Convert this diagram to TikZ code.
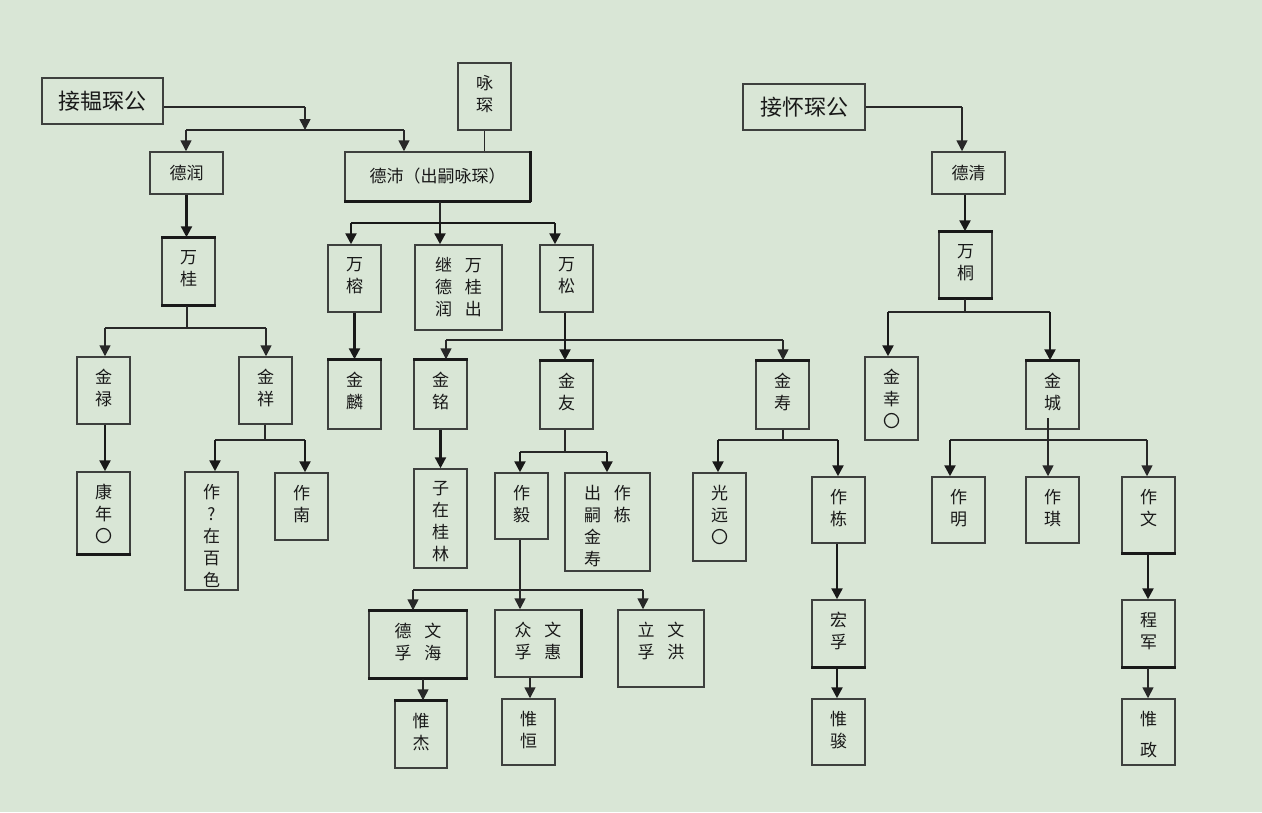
\documentclass[tikz,border=0pt]{standalone}
\usepackage{fontspec}
\newfontfamily\cjk{Noto Sans CJK SC}
\usetikzlibrary{arrows.meta}
\definecolor{bg}{RGB}{217,230,214}
\definecolor{bc}{RGB}{62,64,62}
\definecolor{lc}{RGB}{40,40,40}
\tikzset{
  box/.style={draw=bc, line width=1.5pt, inner sep=0pt},
  thk/.style={draw=black!90, line width=2.8pt},
  ln/.style={draw=lc, line width=1.6pt},
  lnb/.style={draw=black!90, line width=2.4pt},
  arr/.style={ln, -{Triangle[width=11pt,length=11pt]}},
  arrb/.style={lnb, -{Triangle[width=11pt,length=11pt]}},
  lbl/.style={font=\cjk\fontsize{17}{22}\selectfont, align=center, inner sep=0pt, text=black!90},
  big/.style={font=\cjk\fontsize{22}{26}\selectfont, inner sep=0pt, text=black!90},
}
\newcommand{\tbox}[6]{%
  \node[box, minimum width={(#4-#2)*1pt}, minimum height={(#5-#3)*1pt}] (#1) at ({(#2+#4)/2},{(#3+#5)/2}) {};
  \node[lbl, anchor=north] (#1t) at ([yshift=-13pt]#1.north) {#6};}
\newcommand{\cbox}[7]{%
  \node[box, minimum width={(#4-#2)*1pt}, minimum height={(#5-#3)*1pt}] (#1) at ({(#2+#4)/2},{(#3+#5)/2}) {};
  \node[#7] (#1t) at (#1.center) {#6};}
\newcommand{\gap}{\hspace{13pt}}
\begin{document}
\begin{tikzpicture}[x=1pt,y=-1pt]
\useasboundingbox (0,0) rectangle (1262,812);
\fill[bg] (0,0) rectangle (1262,812);

% ---------- left family ----------
\cbox{ja}{42}{78}{163}{124}{接韫琛公}{big}
\tbox{yc}{458}{63}{511}{130}{咏\\琛}
\cbox{dr}{150}{152}{223}{194}{德润}{lbl}
\cbox{dp}{345}{152}{530}{201}{德沛（出嗣咏琛）}{lbl}
\draw[thk] (dp.south west) -- (dp.south east) (dp.north east) -- (dp.south east);

\tbox{wg}{162}{238}{215}{305}{万\\桂}
\draw[thk] (wg.north west) -- (wg.north east) (wg.south west) -- (wg.south east);
\tbox{wr}{328}{245}{381}{312}{万\\榕}
\tbox{jc}{415}{245}{502}{330}{继\gap 万\\德\gap 桂\\润\gap 出}
\tbox{ws}{540}{245}{593}{312}{万\\松}

\tbox{jl}{77}{357}{130}{424}{金\\禄}
\tbox{jx}{239}{357}{292}{424}{金\\祥}
\tbox{jln}{328}{360}{381}{429}{金\\麟}
\draw[thk] (jln.north west) -- (jln.north east);
\tbox{jm}{414}{360}{467}{429}{金\\铭}
\draw[thk] (jm.north west) -- (jm.north east);
\tbox{jy}{540}{361}{593}{429}{金\\友}
\draw[thk] (jy.north west) -- (jy.north east);
\tbox{js}{756}{361}{809}{429}{金\\寿}
\draw[thk] (js.north west) -- (js.north east);

\tbox{kn}{77}{472}{130}{554}{康\\年\\〇}
\draw[thk] (kn.south west) -- (kn.south east);
\tbox{zz}{185}{472}{238}{590}{作\\?\\在\\百\\色}
\tbox{zn}{275}{473}{328}{540}{作\\南}
\tbox{zl}{414}{469}{467}{568}{子\\在\\桂\\林}
\tbox{zy}{495}{473}{548}{539}{作\\毅}
\node[box, minimum width=85pt, minimum height=98pt] (cs) at (607.5,522) {};
\node[lbl, align=left, anchor=north] (cst) at ([yshift=-13pt]cs.north) {出\gap 作\\嗣\gap 栋\\金\\寿};
\tbox{ga}{693}{473}{746}{561}{光\\远\\〇}
\tbox{zd}{812}{477}{865}{543}{作\\栋}

\tbox{dh}{369}{611}{467}{678}{德\gap 文\\孚\gap 海}
\draw[thk] (dh.north west) -- (dh.north east) (dh.south west) -- (dh.south east);
\tbox{zh}{495}{610}{581}{677}{众\gap 文\\孚\gap 惠}
\draw[thk] (zh.north east) -- (zh.south east);
\tbox{lh}{618}{610}{704}{687}{立\gap 文\\孚\gap 洪}
\tbox{wj}{395}{701}{447}{768}{惟\\杰}
\draw[thk] (wj.north west) -- (wj.north east);
\tbox{wh}{502}{699}{555}{765}{惟\\恒}
\tbox{hf}{812}{600}{865}{667}{宏\\孚}
\draw[thk] (hf.south west) -- (hf.south east);
\tbox{wjn}{812}{699}{865}{765}{惟\\骏}

% ---------- right family ----------
\cbox{jh}{743}{84}{865}{130}{接怀琛公}{big}
\cbox{dq}{932}{152}{1005}{194}{德清}{lbl}
\tbox{wt}{939}{232}{992}{298}{万\\桐}
\draw[thk] (wt.north west) -- (wt.north east) (wt.south west) -- (wt.south east);
\tbox{jxg}{865}{357}{918}{440}{金\\幸\\〇}
\tbox{jcg}{1026}{361}{1079}{429}{金\\城}
\draw[thk] (jcg.north west) -- (jcg.north east);
\tbox{zm}{932}{477}{985}{543}{作\\明}
\tbox{zq}{1026}{477}{1079}{543}{作\\琪}
\tbox{zw}{1122}{477}{1175}{553}{作\\文}
\draw[thk] (zw.south west) -- (zw.south east);
\tbox{cj}{1122}{600}{1175}{667}{程\\军}
\draw[thk] (cj.south west) -- (cj.south east);
\tbox{wz}{1122}{699}{1175}{765}{惟\\[9pt]政}

% ---------- connectors: left ----------
\coordinate (ja1) at (305,107);
\coordinate (ja2) at (305,130);
\coordinate (b1l) at (186,130);
\coordinate (b1r) at (404,130);
\draw[ln] (ja.east |- ja1) -- (ja1);
\draw[arr] (ja1) -- (ja2);
\draw[ln] (b1l) -- (b1r);
\draw[arr] (b1l) -- (b1l |- dr.north);
\draw[arr] (b1r) -- (b1r |- dp.north);
\draw[ln] (yc.south) -- (yc.south |- dp.north);

\draw[arrb] (dr.south) -- (dr.south |- wg.north);

\coordinate (b2c) at (440,223);
\coordinate (b2l) at (351,223);
\coordinate (b2r) at (555,223);
\draw[ln] (dp.south -| b2c) -- (b2c);
\draw[lnb] (b2l) -- (b2r);
\draw[arrb] (b2l) -- (b2l |- wr.north);
\draw[arrb] (b2c) -- (b2c |- jc.north);
\draw[arrb] (b2r) -- (b2r |- ws.north);

\coordinate (b3c) at (187,328);
\coordinate (b3l) at (105,328);
\coordinate (b3r) at (266,328);
\draw[ln] (wg.south -| b3c) -- (b3c);
\draw[ln] (b3l) -- (b3r);
\draw[arr] (b3l) -- (b3l |- jl.north);
\draw[arr] (b3r) -- (b3r |- jx.north);

\draw[arrb] (wr.south) -- (wr.south |- jln.north);

\coordinate (b4c) at (565,340);
\coordinate (b4l) at (446,340);
\coordinate (b4r) at (783,340);
\draw[ln] (b4l) -- (b4r);
\draw[arr] (b4l) -- (b4l |- jm.north);
\draw[arr] (b4r) -- (b4r |- js.north);
\draw[arrb] (ws.south -| b4c) -- (b4c |- jy.north);

\draw[arrb] (jl.south -| b3l) -- (b3l |- kn.north);

\coordinate (b5c) at (265,440);
\coordinate (b5l) at (215,440);
\coordinate (b5r) at (305,440);
\draw[ln] (jx.south -| b5c) -- (b5c);
\draw[ln] (b5l) -- (b5r);
\draw[arrb] (b5l) -- (b5l |- zz.north);
\draw[arrb] (b5r) -- (b5r |- zn.north);

\draw[arrb] (jm.south) -- (jm.south |- zl.north);

\coordinate (b6c) at (565,452);
\coordinate (b6l) at (520,452);
\coordinate (b6r) at (607,452);
\draw[ln] (jy.south -| b6c) -- (b6c);
\draw[ln] (b6l) -- (b6r);
\draw[arrb] (b6l) -- (b6l |- zy.north);
\draw[arrb] (b6r) -- (b6r |- cs.north);

\coordinate (b7c) at (783,440);
\coordinate (b7l) at (718,440);
\coordinate (b7r) at (838,440);
\draw[ln] (js.south -| b7c) -- (b7c);
\draw[ln] (b7l) -- (b7r);
\draw[arrb] (b7l) -- (b7l |- ga.north);
\draw[arrb] (b7r) -- (b7r |- zd.north);

\coordinate (b8c) at (520,590);
\coordinate (b8l) at (413,590);
\coordinate (b8r) at (643,590);
\draw[ln] (zy.south -| b8c) -- (b8c);
\draw[ln] (b8l) -- (b8r);
\draw[arr] (b8l) -- (b8l |- dh.north);
\draw[arr] (b8c) -- (b8c |- zh.north);
\draw[arr] (b8r) -- (b8r |- lh.north);

\coordinate (c1) at (423,690);
\draw[arr] (dh.south -| c1) -- (c1 |- wj.north);
\coordinate (c2) at (530,690);
\draw[arr] (zh.south -| c2) -- (c2 |- wh.north);
\coordinate (c3) at (837,600);
\draw[arrb] (zd.south -| c3) -- (c3 |- hf.north);
\draw[arrb] (hf.south -| c3) -- (c3 |- wjn.north);

% ---------- connectors: right ----------
\coordinate (jh1) at (962,107);
\draw[ln] (jh.east) -- (jh1);
\draw[arr] (jh1) -- (jh1 |- dq.north);
\coordinate (c4) at (965,210);
\draw[arrb] (dq.south -| c4) -- (c4 |- wt.north);

\coordinate (b9c) at (965,312);
\coordinate (b9l) at (888,312);
\coordinate (b9r) at (1050,312);
\draw[ln] (wt.south -| b9c) -- (b9c);
\draw[ln] (b9l) -- (b9r);
\draw[arrb] (b9l) -- (b9l |- jxg.north);
\draw[arrb] (b9r) -- (b9r |- jcg.north);

\coordinate (b10s) at (1048,418);
\coordinate (b10c) at (1048,440);
\coordinate (b10l) at (950,440);
\coordinate (b10r) at (1147,440);
\draw[ln] (b10l) -- (b10r);
\draw[arr] (b10s) -- (b10s |- zq.north);
\draw[arrb] (b10l) -- (b10l |- zm.north);
\draw[arr] (b10r) -- (b10r |- zw.north);

\coordinate (c5) at (1148,580);
\draw[arrb] (zw.south -| c5) -- (c5 |- cj.north);
\draw[arr] (cj.south -| c5) -- (c5 |- wz.north);
\end{tikzpicture}
\end{document}
